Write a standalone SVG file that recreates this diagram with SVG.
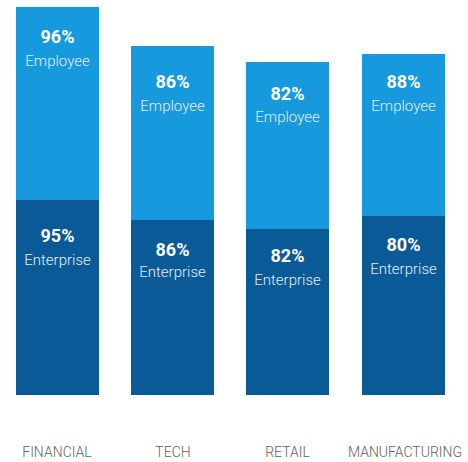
<svg xmlns="http://www.w3.org/2000/svg" width="468" height="462" viewBox="0 0 468 462">
<style>
.emp{fill:#1799dd}
.ent{fill:#0a5a98}
.pct{font-family:Roboto,"Liberation Sans",sans-serif;font-weight:bold;font-size:18px;fill:#ffffff;text-anchor:middle}
.lbl{font-family:Roboto,"Liberation Sans",sans-serif;font-weight:300;font-size:15px;fill:#e3eef8;text-anchor:middle}
.cat{font-family:Roboto,"Liberation Sans",sans-serif;font-weight:300;font-size:14px;fill:#5f5f5f;text-anchor:middle}
</style>
<rect width="468" height="462" fill="#ffffff"/>
<g id="financial">
<rect class="emp" x="16" y="7" width="83" height="193"/>
<rect class="ent" x="16" y="200" width="83" height="195"/>
<text class="pct" x="57.5" y="43">96%</text>
<text class="lbl" x="57.5" y="66">Employee</text>
<text class="pct" x="57.5" y="242">95%</text>
<text class="lbl" x="57.5" y="265">Enterprise</text>
<text class="cat" x="57" y="457">FINANCIAL</text>
</g>
<g id="tech">
<rect class="emp" x="131" y="46" width="83" height="174"/>
<rect class="ent" x="131" y="220" width="83" height="175"/>
<text class="pct" x="172.5" y="88">86%</text>
<text class="lbl" x="172.5" y="111">Employee</text>
<text class="pct" x="172.5" y="256">86%</text>
<text class="lbl" x="172.5" y="277">Enterprise</text>
<text class="cat" x="173" y="457">TECH</text>
</g>
<g id="retail">
<rect class="emp" x="246" y="62" width="83" height="167"/>
<rect class="ent" x="246" y="229" width="83" height="166"/>
<text class="pct" x="287.5" y="100">82%</text>
<text class="lbl" x="287.5" y="122">Employee</text>
<text class="pct" x="287.5" y="262">82%</text>
<text class="lbl" x="287.5" y="285">Enterprise</text>
<text class="cat" x="287.5" y="457">RETAIL</text>
</g>
<g id="manufacturing">
<rect class="emp" x="362" y="54" width="83" height="162"/>
<rect class="ent" x="362" y="216" width="83" height="179"/>
<text class="pct" x="403.5" y="88">88%</text>
<text class="lbl" x="403.5" y="111">Employee</text>
<text class="pct" x="403.5" y="251">80%</text>
<text class="lbl" x="403.5" y="274">Enterprise</text>
<text class="cat" x="405" y="457">MANUFACTURING</text>
</g>
<g id="connectors"/>
</svg>
